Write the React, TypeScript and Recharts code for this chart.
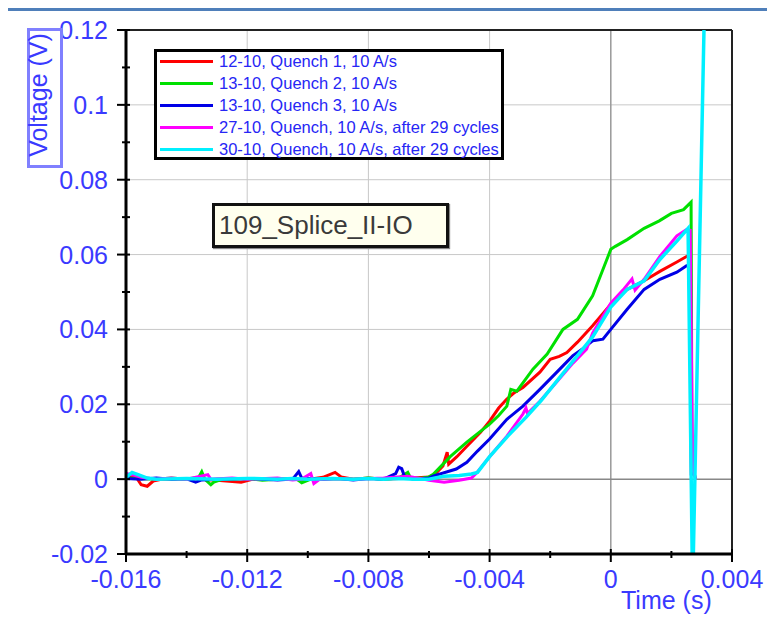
import React from "react";
import {
  LineChart,
  Line,
  XAxis,
  YAxis,
  CartesianGrid,
  ReferenceLine,
} from "recharts";

// series names + colours (legend order)
const SERIES_NAMES = [
  "12-10, Quench 1, 10 A/s",
  "13-10, Quench 2, 10 A/s",
  "13-10, Quench 3, 10 A/s",
  "27-10, Quench, 10 A/s, after 29 cycles",
  "30-10, Quench, 10 A/s, after 29 cycles",
];
const SERIES_COLORS = ["#ff0000", "#00e000", "#0000e6", "#ff00ff", "#00f0ff"];

// [time (s), voltage (V)]
const QUENCH_1: [number, number][] = [
  [-0.016, 0.0005], [-0.0157, 0.001], [-0.0155, -0.0015], [-0.0153, -0.0019], [-0.0151, -0.0005],
  [-0.0148, 0], [-0.014, 0.0002], [-0.013, -0.0003], [-0.0122, -0.0008], [-0.0118, 0],
  [-0.011, 0.0002], [-0.0101, -0.0002], [-0.0095, 0.0005], [-0.0091, 0.0018], [-0.0089, 0.0006],
  [-0.0085, 0], [-0.008, 0.0003], [-0.0075, 0], [-0.007, 0.0002], [-0.0065, 0.0003],
  [-0.006, 0.0006], [-0.0058, 0.0013], [-0.00554, 0.0035], [-0.0054, 0.0072], [-0.00535, 0.004],
  [-0.00508, 0.006], [-0.00475, 0.0088], [-0.0043, 0.0125], [-0.004, 0.0155], [-0.0037, 0.019],
  [-0.00343, 0.0214], [-0.0032, 0.023], [-0.0029, 0.0245], [-0.00234, 0.0286], [-0.002, 0.032],
  [-0.0017, 0.0328], [-0.00145, 0.0338], [-0.0011, 0.0366], [-0.0006, 0.041], [0, 0.0467],
  [0.00054, 0.0507], [0.0011, 0.053], [0.00162, 0.0555], [0.00218, 0.058], [0.0025, 0.0595],
  [0.00262, 0.06], [0.00266, 0.001],
];
const QUENCH_2: [number, number][] = [
  [-0.016, 0.0003], [-0.015, 0], [-0.0145, 0.0003], [-0.014, 0], [-0.0136, 0.0005],
  [-0.0135, 0.002], [-0.0134, 0], [-0.0132, -0.0015], [-0.0131, -0.0008], [-0.0128, 0],
  [-0.012, 0.0002], [-0.0115, -0.0003], [-0.011, 0], [-0.0104, 0.0002], [-0.0102, -0.001],
  [-0.0099, 0], [-0.009, 0.0002], [-0.0085, 0], [-0.008, 0.0003], [-0.0075, 0],
  [-0.007, 0.0003], [-0.0067, 0.0018], [-0.0066, 0.0002], [-0.0062, 0.0003], [-0.006, 0.0006],
  [-0.00586, 0.0013], [-0.0053, 0.006], [-0.00475, 0.0099], [-0.004, 0.0147], [-0.0037, 0.017],
  [-0.00343, 0.0195], [-0.0033, 0.024], [-0.0031, 0.0235], [-0.00257, 0.0294], [-0.0021, 0.0334],
  [-0.00158, 0.04], [-0.0011, 0.0427], [-0.0006, 0.049], [-0.00026, 0.056], [0, 0.0614],
  [0.00015, 0.0622], [0.00054, 0.064], [0.0011, 0.067], [0.0016, 0.069], [0.002, 0.071],
  [0.0024, 0.072], [0.00265, 0.074], [0.00268, 0.004], [0.0028, 0],
];
const QUENCH_3: [number, number][] = [
  [-0.016, 0.0002], [-0.0155, 0], [-0.015, 0.0003], [-0.0145, 0], [-0.014, 0.0001],
  [-0.0137, -0.0008], [-0.0135, -0.0002], [-0.013, 0], [-0.012, 0.0002], [-0.011, -0.0002],
  [-0.0105, 0], [-0.0103, 0.002], [-0.0102, 0.0003], [-0.0095, 0], [-0.009, 0.0002],
  [-0.0085, -0.0002], [-0.008, 0.0002], [-0.0075, 0], [-0.0071, 0.0015], [-0.007, 0.0032],
  [-0.0069, 0.0028], [-0.0068, 0.0005], [-0.0065, 0], [-0.006, 0.0003], [-0.00587, 0.0008],
  [-0.0051, 0.0027], [-0.00475, 0.0045], [-0.0044, 0.0075], [-0.004, 0.0107], [-0.00343, 0.016],
  [-0.0029, 0.0195], [-0.00234, 0.024], [-0.00178, 0.0286], [-0.00125, 0.033], [-0.0009, 0.035],
  [-0.00059, 0.037], [-0.00026, 0.0374], [0, 0.04], [0.00054, 0.0454], [0.0011, 0.0507],
  [0.00162, 0.0534], [0.00218, 0.0553], [0.0025, 0.057], [0.00262, 0.057], [0.00266, 0.001],
];
const QUENCH_27: [number, number][] = [
  [-0.016, 0.0015], [-0.0158, 0.0012], [-0.0155, 0.0005], [-0.015, 0], [-0.0145, 0.0003],
  [-0.014, 0], [-0.0133, 0.0012], [-0.0132, 0], [-0.0125, 0.0003], [-0.012, 0],
  [-0.011, 0.0003], [-0.0105, -0.0002], [-0.0102, 0], [-0.0099, 0.0015], [-0.0098, -0.0012],
  [-0.0096, 0], [-0.009, 0.0002], [-0.0085, 0], [-0.0075, 0.0003], [-0.0067, 0.0008],
  [-0.006, -0.0003], [-0.0055, -0.0008], [-0.005, -0.0003], [-0.0046, 0.0003], [-0.0044, 0.0019],
  [-0.004, 0.006], [-0.00343, 0.0115], [-0.0029, 0.0174], [-0.0028, 0.019], [-0.00275, 0.0175],
  [-0.00234, 0.0208], [-0.00178, 0.026], [-0.00125, 0.031], [-0.0008, 0.0347], [-0.0006, 0.039],
  [0, 0.047], [0.0004, 0.0505], [0.0007, 0.0535], [0.0008, 0.0505], [0.0011, 0.0534],
  [0.00162, 0.0595], [0.00218, 0.065], [0.0025, 0.0667], [0.00262, 0.0665], [0.0027, 0.003],
  [0.0028, 0],
];
const QUENCH_30: [number, number][] = [
  [-0.016, 0.0005], [-0.0158, 0.0018], [-0.0156, 0.0012], [-0.0153, 0.0003], [-0.015, 0],
  [-0.014, 0.0002], [-0.013, 0], [-0.012, 0.0002], [-0.011, 0], [-0.0105, 0.0002],
  [-0.01, 0], [-0.0092, 0.0002], [-0.0085, 0], [-0.008, 0.0002], [-0.0075, 0],
  [-0.007, 0.0002], [-0.0065, 0], [-0.006, 0], [-0.0058, 0.0003], [-0.0055, 0.0008],
  [-0.005, 0.001], [-0.0046, 0.0014], [-0.0044, 0.0018], [-0.004, 0.006], [-0.0034, 0.0115],
  [-0.0028, 0.0165], [-0.0023, 0.021], [-0.00165, 0.0275], [-0.0011, 0.033], [-0.0006, 0.038],
  [0, 0.046], [0.00054, 0.0507], [0.0011, 0.053], [0.00162, 0.0587], [0.00218, 0.0636],
  [0.00255, 0.067], [0.0027, -0.03], [0.0031, 0.13],
];
const SERIES = [QUENCH_1, QUENCH_2, QUENCH_3, QUENCH_27, QUENCH_30];

// axes
const X_TICKS = [-0.016, -0.014, -0.012, -0.01, -0.008, -0.006, -0.004, -0.002, 0, 0.002, 0.004];
const X_MAJOR = [-0.016, -0.012, -0.008, -0.004, 0, 0.004];
const X_TICK_LABELS = ["-0.016", "-0.012", "-0.008", "-0.004", "0", "0.004"];
const X_GRID = [-0.012, -0.008, -0.004];

const Y_TICKS = [-0.02, -0.01, 0, 0.01, 0.02, 0.03, 0.04, 0.05, 0.06, 0.07, 0.08, 0.09, 0.1, 0.11, 0.12];
const Y_MAJOR = [-0.02, 0, 0.02, 0.04, 0.06, 0.08, 0.1, 0.12];
const Y_TICK_LABELS = ["-0.02", "0", "0.02", "0.04", "0.06", "0.08", "0.1", "0.12"];
const Y_GRID = [0.02, 0.04, 0.06, 0.08, 0.1];

const AXIS_BLUE = "#3a3aff";
const FONT = '"Liberation Sans", Arial, sans-serif';

const toPoints = (arr: [number, number][]) => arr.map(([t, v]) => ({ t, v }));

const YTick = (props: any) => {
  const { x, y, payload } = props;
  const i = Y_MAJOR.indexOf(payload.value);
  const major = i >= 0;
  return (
    <g>
      <line x1={x - (major ? 9 : 4)} x2={x + 4} y1={y} y2={y} stroke="#000" strokeWidth={2} />
      {major && (
        <text x={x - 18} y={y + 9} textAnchor="end" fontSize={25} fill={AXIS_BLUE} fontFamily={FONT}>
          {Y_TICK_LABELS[i]}
        </text>
      )}
    </g>
  );
};

const XTick = (props: any) => {
  const { x, y, payload } = props;
  const i = X_MAJOR.indexOf(payload.value);
  const major = i >= 0;
  return (
    <g>
      <line x1={x} x2={x} y1={y - (major ? 5 : 3)} y2={y + (major ? 8 : 4)} stroke="#000" strokeWidth={2} />
      {major && (
        <text x={x} y={y + 34} textAnchor="middle" fontSize={25} fill={AXIS_BLUE} fontFamily={FONT}>
          {X_TICK_LABELS[i]}
        </text>
      )}
    </g>
  );
};

export default function App() {
  return (
    <div style={{ position: "relative", width: 767, height: 617, background: "#fff", fontFamily: FONT }}>
      <style>{`body{margin:0}`}</style>
      <div style={{ position: "absolute", left: 8, top: 8, width: 759, height: 3, background: "#4f7fba" }} />
      <LineChart width={767} height={617} margin={{ top: 30, right: 35, bottom: 23, left: 26 }}>
        <CartesianGrid stroke="#c8c8c8" verticalValues={X_GRID} horizontalValues={Y_GRID} />
        <ReferenceLine x={0} stroke="#999" strokeWidth={1.5} />
        <ReferenceLine y={0} stroke="#888" strokeWidth={1.5} />
        <ReferenceLine y={0.12} stroke="#222" strokeWidth={2} />
        <ReferenceLine x={0.004} stroke="#222" strokeWidth={2} />
        <XAxis
          type="number"
          dataKey="t"
          domain={[-0.016, 0.004]}
          allowDataOverflow
          ticks={X_TICKS}
          interval={0}
          tickSize={0}
          tickMargin={0}
          tickLine={false}
          tick={<XTick />}
          axisLine={{ stroke: "#000", strokeWidth: 3 }}
          height={40}
        />
        <YAxis
          type="number"
          domain={[-0.02, 0.12]}
          allowDataOverflow
          ticks={Y_TICKS}
          interval={0}
          tickSize={0}
          tickMargin={0}
          tickLine={false}
          tick={<YTick />}
          axisLine={{ stroke: "#000", strokeWidth: 3 }}
          width={100}
        />
        {SERIES.map((s, i) => (
          <Line
            key={SERIES_NAMES[i]}
            data={toPoints(s)}
            dataKey="v"
            type="linear"
            stroke={SERIES_COLORS[i]}
            strokeWidth={i === 4 ? 3.5 : 3}
            dot={false}
            isAnimationActive={false}
          />
        ))}
      </LineChart>

      {/* axis titles */}
      <svg width={767} height={617} style={{ position: "absolute", left: 0, top: 0, pointerEvents: "none" }}>
        <rect x={28.5} y={29.5} width={33} height={137} fill="none" stroke="#8080ff" strokeWidth={3} />
        <text x={47} y={95} transform="rotate(-90 47 95)" textAnchor="middle" fontSize={25} fill={AXIS_BLUE} fontFamily={FONT}>
          Voltage (V)
        </text>
        <text x={621} y={609} fontSize={25} fill={AXIS_BLUE} fontFamily={FONT}>
          Time (s)
        </text>
      </svg>

      {/* legend */}
      <div
        style={{
          position: "absolute",
          left: 154,
          top: 49,
          width: 350,
          height: 111,
          boxSizing: "border-box",
          border: "3px solid #000",
          background: "#fff",
        }}
      >
        <div style={{ marginTop: -2 }}>
          {SERIES_NAMES.map((name, i) => (
            <div key={name} style={{ display: "flex", alignItems: "center", height: 22 }}>
              <div style={{ marginLeft: 3, width: 53, height: 3, background: SERIES_COLORS[i] }} />
              <span style={{ marginLeft: 6, fontSize: 16.5, color: "#2626f5", whiteSpace: "nowrap" }}>{name}</span>
            </div>
          ))}
        </div>
      </div>

      {/* title box */}
      <div
        style={{
          position: "absolute",
          left: 212,
          top: 203,
          width: 237,
          height: 45,
          boxSizing: "border-box",
          border: "3px solid #111",
          background: "#ffffee",
          boxShadow: "1px 1px 1px #888",
          display: "flex",
          alignItems: "center",
          paddingLeft: 4,
          fontSize: 26,
          color: "#3a3a3a",
          whiteSpace: "nowrap",
        }}
      >
        109_Splice_II-IO
      </div>
    </div>
  );
}
